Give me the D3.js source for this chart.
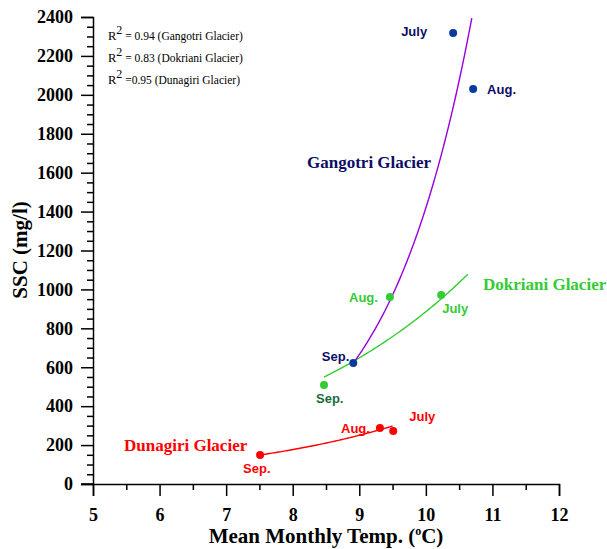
<!DOCTYPE html>
<html><head><meta charset="utf-8">
<script src="https://cdn.jsdelivr.net/npm/d3@7"></script>
<style>body{margin:0;background:#fff}svg{display:block}</style>
</head><body>
<script>
// ---- data ----
const months = ["July", "Aug.", "Sep."];
const gangotriTemp = [10.41, 10.71, 8.91];
const gangotriSSC = [2318, 2030, 622];
const dokrianiTemp = [10.23, 9.46, 8.47];
const dokrianiSSC = [971, 961, 509];
const dunagiriTemp = [9.51, 9.31, 7.51];
const dunagiriSSC = [272, 288, 149];
// exponential fits  SSC = a*exp(b*T), with drawn temperature range
const fitGangotri = {a: 0.7245, b: 0.758, x0: 8.9, x1: 10.69};
const fitDokriani = {a: 39.1, b: 0.312, x0: 8.47, x1: 10.63};
const fitDunagiri = {a: 10.92, b: 0.348, x0: 7.51, x1: 9.5};
const xTicks = [5, 6, 7, 8, 9, 10, 11, 12];
const yTicks = [0, 200, 400, 600, 800, 1000, 1200, 1400, 1600, 1800, 2000, 2200, 2400];
const r2Labels = ["= 0.94 (Gangotri Glacier)", "= 0.83 (Dokriani Glacier)", "=0.95 (Dunagiri Glacier)"];

const W = 607, H = 549;
const svg = d3.select("body").append("svg").attr("width", W).attr("height", H);
const x = d3.scaleLinear().domain([5, 12]).range([93, 559]);
const y = d3.scaleLinear().domain([0, 2400]).range([484, 17]);

const serif = "'Liberation Serif', 'Times New Roman', serif";
const sans = "'Liberation Sans', Arial, sans-serif";

// axes
const xAxis = svg.append("g").attr("transform", "translate(0,484)")
  .call(d3.axisBottom(x).tickValues(xTicks).tickSize(12).tickPadding(12).tickFormat(d3.format("d")));
const xMinor = svg.append("g").attr("transform", "translate(0,484)")
  .call(d3.axisBottom(x).tickValues(d3.range(5.5, 12, 1)).tickSize(6).tickFormat(""));
const yAxis = svg.append("g").attr("transform", "translate(93,0)")
  .call(d3.axisLeft(y).tickValues(yTicks).tickSize(12).tickPadding(8).tickFormat(d3.format("d")));
const yMinor = svg.append("g").attr("transform", "translate(93,0)")
  .call(d3.axisLeft(y).tickValues(d3.range(50, 2400, 50).filter(v => v % 200 !== 0)).tickSize(6).tickFormat(""));
[xAxis, xMinor, yAxis, yMinor].forEach(g => {
  g.selectAll("path.domain").attr("stroke", "#000").attr("stroke-width", 1.5);
  g.selectAll(".tick line").attr("stroke", "#000").attr("stroke-width", 1.5);
  g.selectAll("text").attr("font-family", serif).attr("font-weight", "bold").attr("font-size", 18).attr("fill", "#000");
});
xMinor.select("path.domain").remove();
yMinor.select("path.domain").remove();
// extend x axis line to left of y axis (0 tick merges)
svg.append("line").attr("x1", 81).attr("x2", 93).attr("y1", 484).attr("y2", 484).attr("stroke", "#000").attr("stroke-width", 1.5);

// axis titles
svg.append("text").attr("transform", "translate(27,250) rotate(-90)").attr("text-anchor", "middle")
  .attr("font-family", serif).attr("font-weight", "bold").attr("font-size", 21).text("SSC (mg/l)");
const xt = svg.append("text").attr("x", 326).attr("y", 543).attr("text-anchor", "middle")
  .attr("font-family", serif).attr("font-weight", "bold").attr("font-size", 21);
xt.append("tspan").text("Mean Monthly Temp. (");
xt.append("tspan").attr("font-size", 12).attr("dy", -8).text("o");
xt.append("tspan").attr("dy", 8).text("C)");

// fit curves
function curve(f, color) {
  const pts = d3.range(0, 101).map(i => {
    const t = f.x0 + (f.x1 - f.x0) * i / 100;
    return [t, f.a * Math.exp(f.b * t)];
  });
  svg.append("path").datum(pts).attr("fill", "none").attr("stroke", color).attr("stroke-width", 1.4)
    .attr("d", d3.line().x(d => x(d[0])).y(d => y(d[1])));
}
curve(fitDunagiri, "#ff0000");
curve(fitDokriani, "#33cc33");
curve(fitGangotri, "#9900dd");

// points
function points(temps, sscs, color) {
  svg.append("g").selectAll("circle").data(temps).join("circle")
    .attr("cx", d => x(d)).attr("cy", (d, i) => y(sscs[i])).attr("r", 4).attr("fill", color);
}
points(gangotriTemp, gangotriSSC, "#0a3a9c");
points(dokrianiTemp, dokrianiSSC, "#33cc33");
points(dunagiriTemp, dunagiriSSC, "#ff0000");

// month labels (offsets relative to points)
function monthLabels(temps, sscs, offs, colors) {
  temps.forEach((t, i) => {
    svg.append("text").attr("x", x(t) + offs[i][0]).attr("y", y(sscs[i]) + offs[i][1])
      .attr("text-anchor", offs[i][2]).attr("font-family", sans).attr("font-weight", "bold")
      .attr("font-size", 13).attr("fill", colors[i]).text(months[i]);
  });
}
monthLabels(gangotriTemp, gangotriSSC, [[-26, 3, "end"], [14, 5, "start"], [-4, -2, "end"]],
  ["#0d0d66", "#0d0d66", "#0d0d66"]);
monthLabels(dokrianiTemp, dokrianiSSC, [[1, 18, "start"], [-12, 5, "end"], [-8, 18, "start"]],
  ["#33cc33", "#33cc33", "#1a6b3a"]);
monthLabels(dunagiriTemp, dunagiriSSC, [[16, -10, "start"], [-10, 5, "end"], [-17, 18, "start"]],
  ["#ff0000", "#ff0000", "#ff0000"]);

// glacier names
const names = [["Gangotri Glacier", 307, 168, "#0d0d66"], ["Dokriani Glacier", 483, 290, "#33cc33"], ["Dunagiri Glacier", 124, 451, "#ff0000"]];
names.forEach(n => svg.append("text").attr("x", n[1]).attr("y", n[2]).attr("font-family", serif)
  .attr("font-weight", "bold").attr("font-size", 17).attr("fill", n[3]).text(n[0]));

// R² labels
r2Labels.forEach((s, i) => {
  const t = svg.append("text").attr("x", 108).attr("y", 40 + i * 22).attr("font-family", serif)
    .attr("font-size", 11.5).attr("fill", "#000");
  t.append("tspan").attr("font-size", 12.5).text("R");
  t.append("tspan").attr("dy", -6).attr("font-size", 12).text("2");
  t.append("tspan").attr("dy", 6).text(" " + s);
});
</script>
</body></html>
